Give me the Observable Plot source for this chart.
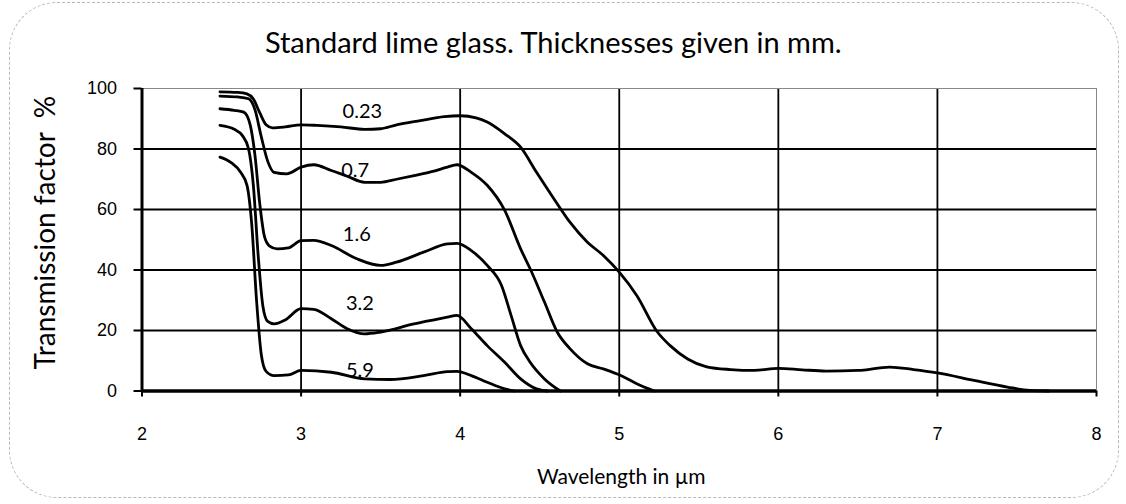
<!DOCTYPE html>
<html>
<head>
<meta charset="utf-8">
<script src="https://cdn.jsdelivr.net/npm/d3@7"></script>
<script src="https://cdn.jsdelivr.net/npm/@observablehq/plot@0.6"></script>
<style>
  html, body { margin: 0; padding: 0; background: #fff; }
  #wrap { position: relative; width: 1126px; height: 504px; overflow: hidden; }
  #border { position: absolute; left: 9px; top: 2px; width: 1110px; height: 496px;
            border: 1px dashed #b8b8b8; border-radius: 48px; box-sizing: border-box; pointer-events: none; }
</style>
</head>
<body>
<div id="wrap"><div id="border"></div></div>
<script>
const title = "Standard lime glass. Thicknesses given in mm.";
const xLabel = "Wavelength in µm";
const yLabel = "Transmission factor  %";
const xTicks = [2, 3, 4, 5, 6, 7, 8];
const yTicks = [0, 20, 40, 60, 80, 100];

const thickness = ["0.23", "0.7", "1.6", "3.2", "5.9"];

const x023 = [2.49, 2.60, 2.66, 2.70, 2.74, 2.78, 2.82, 2.9, 3.0, 3.1, 3.25, 3.4, 3.5, 3.6, 3.75, 3.9, 4.0, 4.1, 4.17, 4.28, 4.38, 4.48, 4.59, 4.69, 4.8, 4.9, 5.0, 5.11, 5.24, 5.32, 5.43, 5.55, 5.7, 5.85, 6.0, 6.15, 6.3, 6.5, 6.7, 6.85, 7.0, 7.23, 7.44, 7.58, 7.7];
const y023 = [98.9, 98.7, 98.2, 96.5, 92, 88, 87, 87.3, 88, 87.8, 87.3, 86.5, 86.7, 88, 89.4, 90.7, 91, 90.3, 88.9, 85, 80.6, 72.3, 63.5, 55.8, 49.2, 44.8, 39.3, 31.6, 19.5, 15, 10.6, 8.0, 7.1, 6.8, 7.5, 7.0, 6.6, 6.8, 7.9, 7.1, 6.0, 3.5, 1.3, 0.2, 0];

const x07 = [2.49, 2.6, 2.67, 2.71, 2.75, 2.79, 2.83, 2.91, 3.0, 3.08, 3.19, 3.29, 3.4, 3.5, 3.6, 3.71, 3.82, 3.92, 3.98, 4.07, 4.17, 4.28, 4.38, 4.44, 4.53, 4.61, 4.69, 4.8, 4.9, 5.01, 5.11, 5.22];
const y07 = [97.5, 97.2, 96.6, 93, 84, 76, 72.3, 71.8, 74, 74.8, 72.9, 71, 69, 69, 70, 71.2, 72.5, 74, 74.8, 72.3, 68, 59.7, 47, 40.4, 29.4, 19.5, 14, 9, 7.3, 5.1, 2.4, 0];

const x16 = [2.49, 2.58, 2.64, 2.68, 2.71, 2.74, 2.77, 2.8, 2.85, 2.92, 3.0, 3.08, 3.19, 3.35, 3.5, 3.6, 3.77, 3.92, 3.98, 4.07, 4.17, 4.26, 4.32, 4.38, 4.44, 4.53, 4.63];
const y16 = [93.3, 92.8, 92.2, 88, 78, 62, 51, 48, 47, 47.3, 49.7, 49.8, 48.1, 43.7, 41.5, 42.6, 45.9, 48.6, 48.8, 46.4, 41.5, 34.9, 25, 15, 9.5, 4, 0];

const x32 = [2.49, 2.58, 2.63, 2.67, 2.7, 2.73, 2.76, 2.79, 2.83, 2.9, 3.0, 3.08, 3.19, 3.29, 3.4, 3.5, 3.71, 3.92, 3.98, 4.07, 4.17, 4.28, 4.38, 4.48, 4.55];
const y32 = [87.8, 86.5, 84.5, 80, 68, 45, 28, 23, 22.2, 23.5, 27.2, 27, 23.9, 20.6, 18.9, 19.5, 22.2, 24.4, 25, 20.6, 15, 9.5, 4, 0.7, 0];

const x59 = [2.49, 2.56, 2.62, 2.66, 2.69, 2.72, 2.75, 2.78, 2.83, 2.92, 3.0, 3.19, 3.4, 3.56, 3.77, 3.92, 3.98, 4.07, 4.17, 4.28, 4.34];
const y59 = [77.3, 75.5, 72.3, 68, 55, 30, 12, 6.5, 5.1, 5.3, 6.8, 6.2, 4, 3.8, 5.1, 6.4, 6.5, 5.1, 2.9, 0.7, 0];

const labelX = [3.385, 3.34, 3.35, 3.37, 3.37];
const labelY = [92.4, 72.9, 51.6, 28.8, 6.8];

const seriesX = [x023, x07, x16, x32, x59];
const seriesY = [y023, y07, y16, y32, y59];
const rows = [];
thickness.forEach((t, i) => seriesX[i].forEach((x, j) => rows.push({t, x, y: seriesY[i][j]})));
const labels = thickness.map((t, i) => ({t, x: labelX[i], y: labelY[i]}));

const font = "Lato, 'Open Sans', sans-serif";
const tickFont = "'Liberation Sans', Arial, sans-serif";

const chart = Plot.plot({
  width: 1126,
  height: 504,
  marginLeft: 141.5,
  marginRight: 30,
  marginTop: 88,
  marginBottom: 113.5,
  style: {background: "transparent", fontFamily: font, color: "#000"},
  x: {domain: [2, 8], ticks: xTicks, tickFormat: "d"},
  y: {domain: [0, 100], ticks: yTicks, tickFormat: "d"},
  marks: [
    Plot.gridX([3, 4, 5, 6, 7], {stroke: "#000", strokeOpacity: 1, strokeWidth: 1.8}),
    Plot.gridY([20, 40, 60, 80], {stroke: "#000", strokeOpacity: 1, strokeWidth: 1.8}),
    Plot.frame({stroke: "#888", strokeWidth: 1}),
    Plot.axisX(xTicks, {tickSize: 6, tickPadding: 30, fontSize: 18, fontFamily: tickFont, strokeWidth: 2, tickFormat: "d", label: null}),
    Plot.axisY(yTicks, {tickSize: 8, tickPadding: 17, fontSize: 18, fontFamily: tickFont, strokeWidth: 2, tickFormat: "d", label: null}),
    Plot.ruleX([2], {strokeWidth: 3}),
    Plot.ruleY([0], {strokeWidth: 3.5}),
    Plot.line(rows, {x: "x", y: "y", z: "t", curve: "monotone-x", stroke: "#000", strokeWidth: 2.8}),
    Plot.text(labels, {x: "x", y: "y", text: "t", fontSize: 20, fontFamily: font}),
    Plot.text([title], {frameAnchor: "top", dx: -66, dy: -56, fontSize: 29, fontFamily: font}),
    Plot.text([xLabel], {frameAnchor: "bottom", dx: 2, dy: 93, fontSize: 21, fontFamily: font}),
    Plot.text([yLabel], {frameAnchor: "left", textAnchor: "middle", dx: -96, dy: -7, rotate: -90, fontSize: 28, fontFamily: font})
  ]
});
document.getElementById("wrap").appendChild(chart);
</script>
</body>
</html>
